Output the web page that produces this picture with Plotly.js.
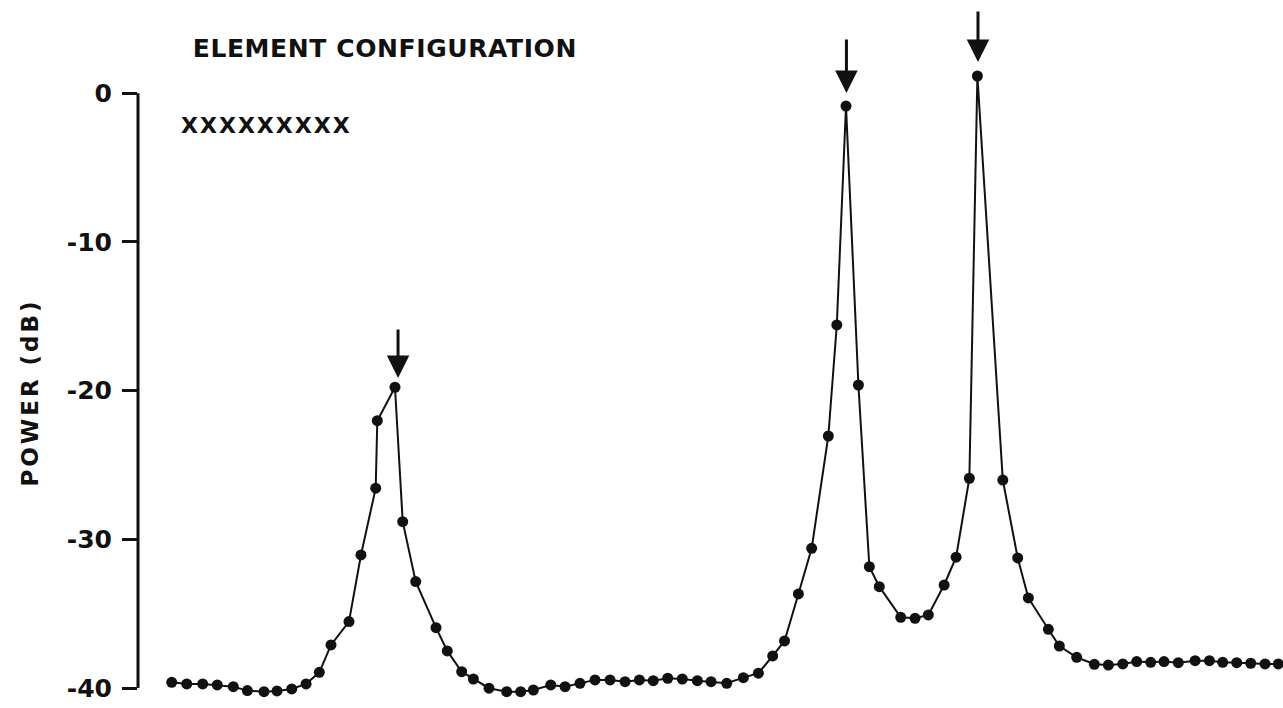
<!DOCTYPE html>
<html>
<head>
<meta charset="utf-8">
<script src="https://cdn.plot.ly/plotly-3.0.1.min.js"></script>
<style>
html,body{margin:0;padding:0;background:#fff;}
#chart{width:1283px;height:708px;}
</style>
</head>
<body>
<div id="chart"></div>
<script>
// Position along the scan (arbitrary units, no x scale in the original)
const position = [2.31,3.34,4.43,5.43,6.53,7.49,8.63,9.52,10.53,11.51,12.42,13.22,14.45,15.27,16.28,16.39,17.60,18.13,19.02,20.41,21.18,22.17,22.97,24.04,25.25,26.21,27.08,28.27,29.25,30.27,31.30,32.33,33.36,34.34,35.29,36.28,37.28,38.31,39.25,40.32,41.46,42.49,43.47,44.28,45.23,46.14,47.28,47.86,48.49,49.34,50.09,50.77,52.24,53.22,54.13,55.21,56.03,56.94,57.49,59.23,60.25,60.98,62.35,63.10,64.29,65.50,66.46,67.45,68.40,69.36,70.27,71.25,72.40,73.38,74.29,75.25,76.21,77.19,78.10];
// Power in dB
const powerDb = [-39.61,-39.72,-39.72,-39.79,-39.91,-40.17,-40.24,-40.19,-40.06,-39.72,-38.94,-37.10,-35.53,-31.05,-26.56,-22.02,-19.77,-28.81,-32.84,-35.94,-37.50,-38.90,-39.39,-40.01,-40.24,-40.24,-40.13,-39.79,-39.91,-39.68,-39.45,-39.45,-39.57,-39.45,-39.50,-39.34,-39.39,-39.50,-39.57,-39.68,-39.30,-39.00,-37.84,-36.83,-33.67,-30.60,-23.05,-15.58,-0.86,-19.62,-31.84,-33.18,-35.24,-35.31,-35.08,-33.07,-31.20,-25.89,1.16,-26.01,-31.25,-33.94,-36.05,-37.17,-37.93,-38.40,-38.45,-38.38,-38.22,-38.27,-38.22,-38.29,-38.16,-38.16,-38.27,-38.29,-38.33,-38.38,-38.38];
// Arrows marking the detected peaks
const arrowPos = [17.81, 48.52, 57.53];
const arrowTip = [-19.15, 0.02, 2.10];
const arrowTail = [-15.78, 3.72, 5.60];
// Axis ticks
const tickVals = [0, -10, -20, -30, -40];
const tickText = ["0", "-10", "-20", "-30", "-40"];
const titleText = "ELEMENT CONFIGURATION";
const configText = "XXXXXXXXX";
const yTitle = "POWER (dB)";

const ink = "#111";
const font = "DejaVu Sans, Liberation Sans, sans-serif";

const trace = {
  x: position, y: powerDb, type: "scatter", mode: "lines+markers",
  line: {color: ink, width: 2},
  marker: {color: ink, size: 11},
  cliponaxis: false, hoverinfo: "skip", showlegend: false
};

const annotations = arrowPos.map((p, i) => ({
  x: p, y: arrowTip[i], ax: p, ay: arrowTail[i], axref: "x", ayref: "y",
  xref: "x", yref: "y", text: "", showarrow: true,
  arrowhead: 2, arrowsize: 1.5, arrowwidth: 3, arrowcolor: ink, standoff: 0
}));
annotations.push({
  xref: "paper", yref: "paper", x: 0.216, y: 0.932, xanchor: "center", yanchor: "middle",
  text: titleText, showarrow: false,
  font: {family: font, size: 25, color: ink, weight: "bold"}
});
annotations.push({
  xref: "paper", yref: "paper", x: 0.112, y: 0.823, xanchor: "center", yanchor: "middle",
  text: configText, showarrow: false,
  font: {family: font, size: 22, color: ink, weight: "bold"}
});
annotations.push({
  xref: "paper", yref: "paper", x: -0.094, y: 0.446, xanchor: "center", yanchor: "middle",
  text: yTitle, showarrow: false, textangle: -90,
  font: {family: font, size: 23, color: ink, weight: "bold"}
});

const layout = {
  width: 1283, height: 708,
  margin: {l: 138, r: 0, t: 0, b: 0},
  paper_bgcolor: "#fff", plot_bgcolor: "#fff",
  xaxis: {range: [0, 78.42], visible: false, fixedrange: true},
  yaxis: {
    range: [-41.34, 6.27], showgrid: false, zeroline: false, showline: false,
    tickvals: tickVals, ticktext: tickText,
    ticks: "outside", ticklen: 15, tickwidth: 3, tickcolor: ink,
    ticklabelstandoff: 5,
    tickfont: {family: font, size: 25, color: ink, weight: "bold"}
  },
  shapes: [{
    type: "line", xref: "paper", yref: "y", x0: 0, x1: 0, y0: -40, y1: 0,
    line: {color: ink, width: 3}
  }],
  annotations: annotations
};

Plotly.newPlot("chart", [trace], layout, {staticPlot: true}).then(gd => {
  gd.querySelectorAll(".annotation-text").forEach(t => {
    if (t.textContent === titleText) t.setAttribute("letter-spacing", "0.6px");
    if (t.textContent === configText) t.setAttribute("letter-spacing", "2px");
    if (t.textContent === yTitle) t.setAttribute("letter-spacing", "3px");
  });
});
</script>
</body>
</html>
